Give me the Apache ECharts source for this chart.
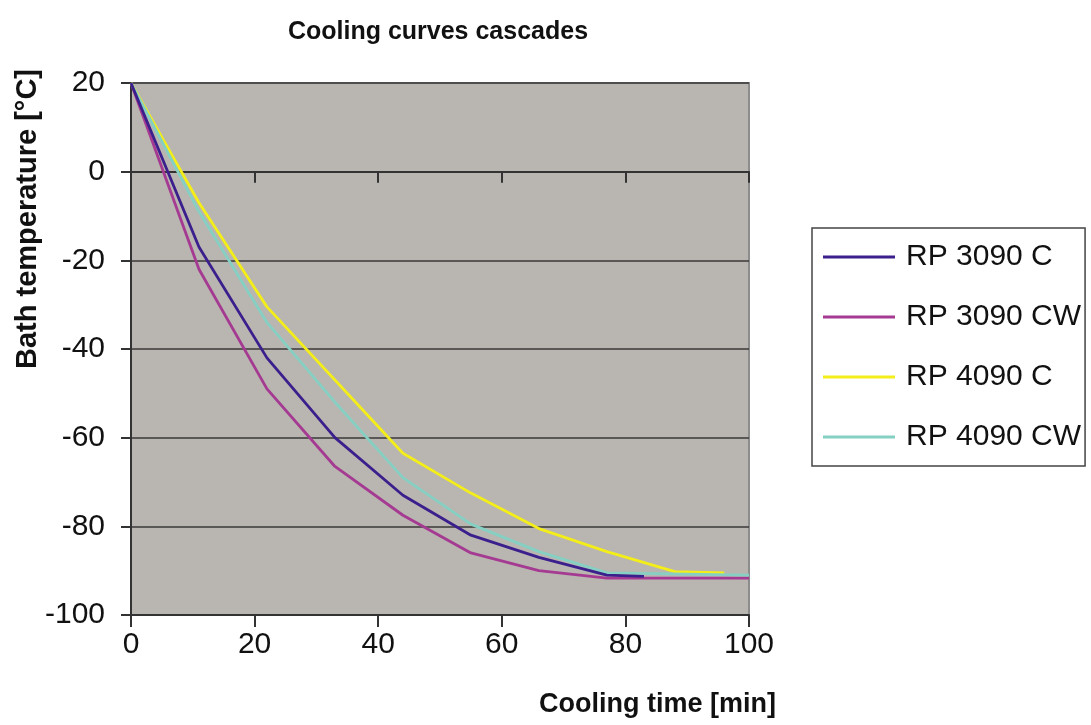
<!DOCTYPE html>
<html>
<head>
<meta charset="utf-8">
<script src="https://cdn.jsdelivr.net/npm/echarts@6/dist/echarts.min.js"></script>
<style>
html,body{margin:0;padding:0;background:#fff;}
#chart{width:1091px;height:725px;}
</style>
</head>
<body>
<div id="chart"></div>
<script>
// ---- data ----
const title = 'Cooling curves cascades';
const xName = 'Cooling time [min]';
const yName = 'Bath temperature [°C]';
const seriesNames = ['RP 3090 C', 'RP 3090 CW', 'RP 4090 C', 'RP 4090 CW'];

const rp3090C  = [[0,20],[11,-17],[22,-42],[33,-60],[44,-73],[55,-82],[66,-87],[77,-91],[83,-91.3]];
const rp3090CW = [[0,20],[11,-22],[22,-49],[33,-66.5],[44,-77.5],[55,-86],[66,-90],[77,-91.7],[100,-91.7]];
const rp4090C  = [[0,20],[11,-7],[22,-30.5],[33,-47],[44,-63.5],[55,-72.5],[66,-80.5],[77,-85.7],[88,-90.2],[96,-90.5]];
const rp4090CW = [[0,20],[11,-9],[22,-34],[33,-52],[44,-69],[55,-79.5],[66,-85.7],[77,-90.5],[100,-91]];

const xTicks = [0, 20, 40, 60, 80, 100];
const yTicks = [-100, -80, -60, -40, -20, 0, 20];

const colors = ['#3b1f8c', '#a53a92', '#f3ee1a', '#86d0c3'];
const allData = [rp3090C, rp3090CW, rp4090C, rp4090CW];

const FONT = '"Liberation Sans", Arial, sans-serif';
const chart = echarts.init(document.getElementById('chart'), null, {renderer: 'canvas'});

const option = {
  backgroundColor: '#ffffff',
  animation: false,
  textStyle: {fontFamily: FONT},
  title: {
    text: title,
    left: 433, top: 15, textAlign: 'center',
    textStyle: {fontFamily: FONT, fontWeight: 'bold', fontSize: 25, color: '#111'}
  },
  graphic: [
    {type: 'text', left: 539, top: 691,
     style: {text: xName, font: 'bold 27px ' + FONT, fill: '#111'}},
    {type: 'text', x: 42, y: 219, rotation: Math.PI / 2,
     style: {text: yName, font: 'bold 29px ' + FONT, fill: '#111', textAlign: 'center', textVerticalAlign: 'bottom'}}
  ],
  legend: {
    orient: 'vertical',
    left: 812, top: 228,
    padding: [14, 4, 14, 11],
    itemGap: 30,
    itemWidth: 72, itemHeight: 3,
    icon: 'rect',
    backgroundColor: '#ffffff',
    borderColor: '#444', borderWidth: 1.5,
    textStyle: {fontFamily: FONT, fontSize: 30, color: '#111', lineHeight: 30, padding: [0, 0, 0, 6]},
    data: seriesNames
  },
  grid: {
    left: 131, right: 342, top: 83, bottom: 110,
    show: true, backgroundColor: '#b9b5b0',
    borderColor: '#8c8c8c', borderWidth: 2
  },
  xAxis: [
    {
      type: 'value', min: 0, max: 100, interval: 20, position: 'bottom',
      axisLine: {show: true, onZero: false, lineStyle: {color: '#333', width: 2}},
      axisTick: {show: true, inside: false, length: 12, lineStyle: {color: '#333', width: 2}},
      axisLabel: {fontFamily: FONT, fontSize: 30, color: '#111', margin: 15,
                  formatter: v => xTicks.includes(v) ? String(v) : ''},
      splitLine: {show: false}
    },
    {
      type: 'value', min: 0, max: 100, interval: 20, position: 'bottom',
      axisLine: {show: true, onZero: true, lineStyle: {color: '#333', width: 2}},
      axisTick: {show: true, inside: false, length: 11, lineStyle: {color: '#333', width: 2}},
      axisLabel: {show: false},
      splitLine: {show: false}
    }
  ],
  yAxis: {
    type: 'value', min: -100, max: 20, interval: 20,
    axisLine: {show: true, onZero: false, lineStyle: {color: '#333', width: 2}},
    axisTick: {show: true, inside: false, length: 10, lineStyle: {color: '#333', width: 2}},
    axisLabel: {fontFamily: FONT, fontSize: 30, color: '#111', margin: 26,
                formatter: v => yTicks.includes(v) ? String(v) : ''},
    splitLine: {show: true, lineStyle: {color: '#3a3a3a', width: 1.5}}
  },
  series: seriesNames.map((n, i) => ({
    name: n, type: 'line', xAxisIndex: 0, data: allData[i],
    showSymbol: false, smooth: false,
    lineStyle: {color: colors[i], width: 2.8},
    itemStyle: {color: colors[i]},
    z: 3 + (i === 0 ? 1 : 0)
  }))
};
chart.setOption(option);
</script>
</body>
</html>
